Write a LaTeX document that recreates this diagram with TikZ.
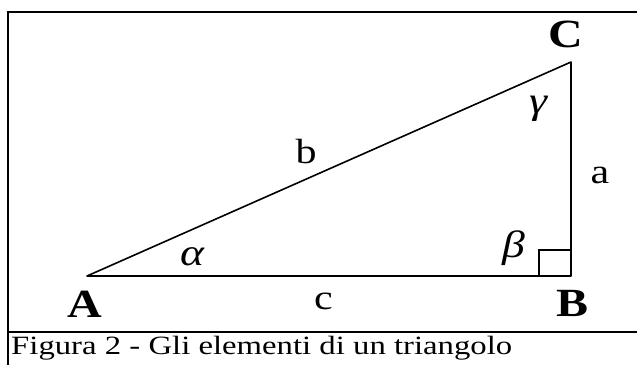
\documentclass[tikz,border=0pt]{standalone}
\usepackage{fontspec}
\usepackage{graphicx}
\setmainfont{Liberation Serif}
\usetikzlibrary{positioning,calc}
\newcommand{\wide}[1]{\scalebox{1.2}[1]{#1}}

\begin{document}
\begin{tikzpicture}[x=1pt, y=-1pt,
  edge/.style={line width=1.6pt, line cap=round, line join=round},
  frame/.style={line width=2pt},
  vertex/.style={inner sep=0pt, font=\fontsize{40}{40}\selectfont\bfseries},
  side/.style={inner sep=0pt, font=\fontsize{35}{35}\selectfont},
  angle/.style={inner sep=0pt, font=\fontsize{38}{38}\selectfont\itshape},
  caption/.style={inner sep=0pt, anchor=base west, font=\fontsize{27}{27}\selectfont}]
  \useasboundingbox (0,0) rectangle (637,365);
  % frame
  \draw[frame] (637,11.5) -- (8,11.5) -- (8,365);
  \draw[frame] (8,332) -- (637,332);
  % triangle
  \coordinate (A) at (87,276);
  \coordinate (B) at (571,276);
  \coordinate (C) at (571,62);
  \draw[edge] (A) -- (B) -- (C) -- cycle;
  \draw[line width=1.2pt] ($(B)+(-32,0)$) |- ($(B)+(0,-26)$);
  % labels
  \node[vertex] (lA) at (85,304) {\wide{A}};
  \node[vertex] (lB) at (573,303.5) {\wide{B}};
  \node[vertex] (lC) at (566,34.5) {\wide{C}};
  \node[side] (la) at (600,175.5) {\wide{a}};
  \node[side] (lb) at (306,151.5) {\wide{b}};
  \node[side] (lc) at (323.5,301.5) {\wide{c}};
  \node[angle] (alpha) at (192.5,256.5) {\wide{α}};
  \node[angle] (beta) at (513.5,248.5) {\wide{β}};
  \node[angle] (gamma) at (538,109) {\wide{γ}};
  \node[caption] (cap) at (11,354) {\resizebox{501pt}{18.3pt}{Figura 2 - Gli elementi di un triangolo}};
\end{tikzpicture}
\end{document}
